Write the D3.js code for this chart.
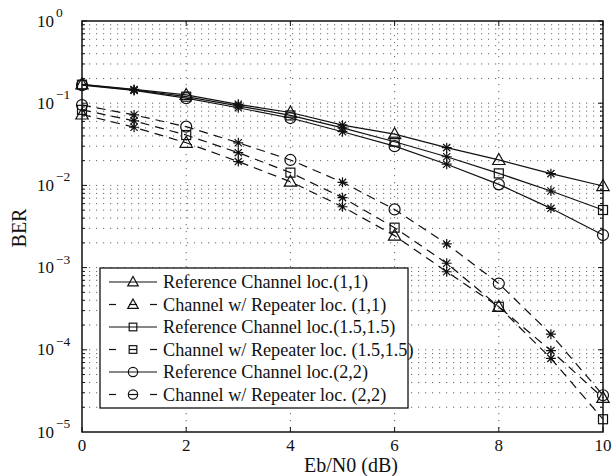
<!DOCTYPE html>
<html><head><meta charset="utf-8">
<script src="https://cdn.jsdelivr.net/npm/d3@7"></script>
<style>body{margin:0;background:#fff}svg{display:block}</style>
</head><body><svg id="c" width="615" height="476" font-family="'Liberation Serif', 'DejaVu Serif', serif"></svg>
<script>
const ebn0 = [0,1,2,3,4,5,6,7,8,9,10];
const refLoc11 = [0.170,0.147,0.126,0.097,0.077,0.054,0.042,0.0288,0.0204,0.0139,0.00984];
const repLoc11 = [0.073,0.051,0.033,0.0195,0.0111,0.0055,0.00245,0.00089,0.000334,0.0000977,0.000026];
const refLoc15 = [0.168,0.145,0.120,0.093,0.071,0.050,0.034,0.0223,0.0140,0.00855,0.00502];
const repLoc15 = [0.083,0.061,0.041,0.025,0.0143,0.0071,0.00306,0.00113,0.000334,0.0000787,0.0000143];
const refLoc22 = [0.166,0.143,0.115,0.088,0.066,0.045,0.030,0.0181,0.0103,0.00526,0.00249];
const repLoc22 = [0.095,0.072,0.0518,0.033,0.0204,0.0109,0.0051,0.00194,0.00064,0.000155,0.000028];
const legendLabels = ["Reference Channel loc.(1,1)","Channel w/ Repeater loc. (1,1)","Reference Channel loc.(1.5,1.5)","Channel w/ Repeater loc. (1.5,1.5)","Reference Channel loc.(2,2)","Channel w/ Repeater loc. (2,2)"];
const xTicks = [0,2,4,6,8,10];
const yExponents = [0,-1,-2,-3,-4,-5];
const xLabel = "Eb/N0 (dB)", yLabel = "BER";

const series = [
  {vals: refLoc11, shape: "tri", dash: false},
  {vals: repLoc11, shape: "tri", dash: true},
  {vals: refLoc15, shape: "sq", dash: false},
  {vals: repLoc15, shape: "sq", dash: true},
  {vals: refLoc22, shape: "circ", dash: false},
  {vals: repLoc22, shape: "circ", dash: true}
];

const FONT = "'Liberation Serif', 'DejaVu Serif', serif";
const svg = d3.select("#c");
const L = 82, R = 603, T = 21, B = 432;
const x = d3.scaleLinear().domain([0,10]).range([L,R]);
const y = d3.scaleLog().domain([1e-5,1]).range([B,T]);

// grid
const g = svg.append("g");
const minorY = [];
for (let e = -5; e < 0; e++) for (let m = 1; m <= 9; m++) { if (!(e===-5 && m===1)) minorY.push(m*Math.pow(10,e)); }
minorY.push(1);
g.selectAll("line.hg").data(minorY.filter(v => v > 1e-5 && v < 1)).join("line")
  .attr("x1", L).attr("x2", R).attr("y1", d => y(d)).attr("y2", d => y(d))
  .attr("stroke", "#666").attr("stroke-width", 1).attr("stroke-dasharray", "1.2,5.8");
g.selectAll("line.vg").data(xTicks.filter(v => v > 0 && v < 10)).join("line")
  .attr("y1", T).attr("y2", B).attr("x1", d => x(d)).attr("x2", d => x(d))
  .attr("stroke", "#666").attr("stroke-width", 1).attr("stroke-dasharray", "1.2,5.8");

// ticks (inward, all sides)
const tk = svg.append("g").attr("stroke", "#111").attr("stroke-width", 1);
xTicks.forEach(v => {
  tk.append("line").attr("x1", x(v)).attr("x2", x(v)).attr("y1", B).attr("y2", B-5);
  tk.append("line").attr("x1", x(v)).attr("x2", x(v)).attr("y1", T).attr("y2", T+5);
});
minorY.forEach(v => {
  const major = Math.abs(Math.log10(v) - Math.round(Math.log10(v))) < 1e-9;
  const len = major ? 5 : 3;
  tk.append("line").attr("x1", L).attr("x2", L+len).attr("y1", y(v)).attr("y2", y(v));
  tk.append("line").attr("x1", R).attr("x2", R-len).attr("y1", y(v)).attr("y2", y(v));
});

// axes box
svg.append("rect").attr("x", L).attr("y", T).attr("width", R-L).attr("height", B-T)
  .attr("fill", "none").attr("stroke", "#111").attr("stroke-width", 1.5);

// tick labels
xTicks.forEach(v => {
  svg.append("text").attr("x", x(v)).attr("y", 451).attr("text-anchor", "middle")
    .attr("font-family", FONT).attr("fill", "#111").attr("font-size", 17).text(v);
});
yExponents.forEach(e => {
  const yy = y(Math.pow(10, e));
  const t = svg.append("text").attr("x", 37).attr("y", yy + 5.5).attr("font-size", 17)
    .attr("font-family", FONT).attr("fill", "#111");
  t.append("tspan").text("10");
  t.append("tspan").attr("font-size", 13.5).attr("dy", -9.5).attr("dx", 2).text(e === 0 ? "0" : "\u2212" + Math.abs(e));
});

// axis labels
svg.append("text").attr("x", 351).attr("y", 472).attr("text-anchor", "middle").attr("font-size", 20)
  .attr("font-family", FONT).attr("fill", "#111").text(xLabel);
svg.append("text").attr("transform", "translate(26,228) rotate(-90)").attr("text-anchor", "middle").attr("font-size", 20)
  .attr("font-family", FONT).attr("fill", "#111").text(yLabel);

// marker drawing
function drawMarker(sel, shape, cx, cy, scale) {
  const s = scale || 1;
  if (shape === "tri") {
    const h = 6.5*s;
    sel.append("path").attr("d", `M${cx},${cy-h} L${cx+h*0.95},${cy+h*0.7} L${cx-h*0.95},${cy+h*0.7} Z`);
  } else if (shape === "sq") {
    const h = 4.5*s;
    sel.append("rect").attr("x", cx-h).attr("y", cy-h).attr("width", 2*h).attr("height", 2*h);
  } else if (shape === "circ") {
    sel.append("circle").attr("cx", cx).attr("cy", cy).attr("r", 5.5*s);
  } else if (shape === "star") {
    const h = 5*s, d = h*0.72;
    sel.append("path").attr("d",
      `M${cx},${cy-h}V${cy+h}M${cx-h},${cy}H${cx+h}M${cx-d},${cy-d}L${cx+d},${cy+d}M${cx-d},${cy+d}L${cx+d},${cy-d}`);
  }
}

const line = d3.line().x((d, i) => x(ebn0[i])).y(d => y(d));
const plot = svg.append("g");
series.forEach(s => {
  plot.append("path").attr("d", line(s.vals)).attr("fill", "none").attr("stroke", "#111")
    .attr("stroke-width", 1.2).attr("stroke-dasharray", s.dash ? "9,6" : null);
  const mg = plot.append("g").attr("fill", "none").attr("stroke", "#111").attr("stroke-width", 1.2);
  s.vals.forEach((v, i) => {
    drawMarker(mg, ebn0[i] % 2 === 0 ? s.shape : "star", x(ebn0[i]), y(v));
  });
});

// legend
const lg = svg.append("g");
lg.append("rect").attr("x", 100).attr("y", 268).attr("width", 308).attr("height", 140)
  .attr("fill", "#fff").attr("stroke", "#111").attr("stroke-width", 1.3);
series.forEach((s, i) => {
  const yy = 282 + i*22.5;
  if (s.dash) {
    [[109,116],[129,137],[150,157]].forEach(p => lg.append("line").attr("x1", p[0]).attr("x2", p[1])
      .attr("y1", yy).attr("y2", yy).attr("stroke", "#111").attr("stroke-width", 1.2));
  } else {
    lg.append("line").attr("x1", 109).attr("x2", 157).attr("y1", yy).attr("y2", yy)
      .attr("stroke", "#111").attr("stroke-width", 1.2);
  }
  const mg = lg.append("g").attr("fill", "none").attr("stroke", "#111").attr("stroke-width", 1.2);
  drawMarker(mg, s.shape, 133, yy, 0.85);
  lg.append("text").attr("x", 163).attr("y", yy + 6).attr("font-size", 18.2)
    .attr("font-family", FONT).attr("fill", "#111").text(legendLabels[i]);
});
</script></body></html>
